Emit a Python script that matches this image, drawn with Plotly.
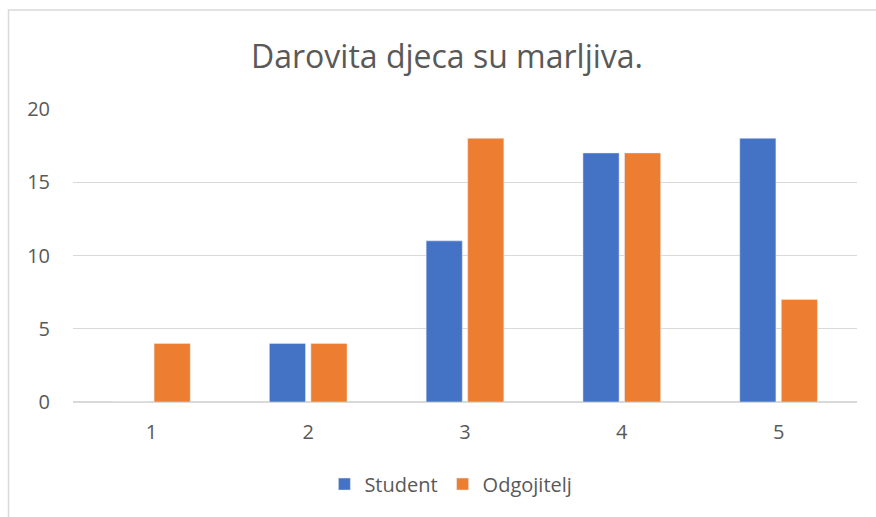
import plotly.graph_objects as go

# Podaci sa grafikona
kategorije = ["1", "2", "3", "4", "5"]
student = [0, 4, 11, 17, 18]
odgojitelj = [4, 4, 18, 17, 7]

PLAVA = "#4472c4"
NARANCASTA = "#ed7d31"
SIVA_TEKST = "#595959"
SIVA_MREZA = "#d9d9d9"
FONT = "Open Sans, sans-serif"

fig = go.Figure()
fig.add_trace(go.Bar(x=kategorije, y=student, name="Student", marker_color=PLAVA))
fig.add_trace(go.Bar(x=kategorije, y=odgojitelj, name="Odgojitelj", marker_color=NARANCASTA))

fig.update_layout(
    width=876,
    height=517,
    paper_bgcolor="white",
    plot_bgcolor="white",
    font=dict(family=FONT, color=SIVA_TEKST, size=20),
    margin=dict(l=73, r=19, t=109, b=115),
    barmode="group",
    bargap=0.47,
    bargroupgap=0.13,
    title=dict(
        text="Darovita djeca su marljiva.",
        x=447 / 876,
        xanchor="center",
        y=1 - 57 / 517,
        yanchor="middle",
        font=dict(size=32, color=SIVA_TEKST, family=FONT),
    ),
    legend=dict(
        orientation="h",
        x=0.482,
        xanchor="center",
        y=-0.28,
        yanchor="middle",
        font=dict(size=20, color=SIVA_TEKST),
        traceorder="normal",
        itemwidth=30,
    ),
    xaxis=dict(showgrid=False, showline=False, ticks="", ticklabelstandoff=16),
    yaxis=dict(
        range=[0, 20],
        dtick=5,
        showgrid=True,
        gridcolor=SIVA_MREZA,
        gridwidth=1,
        zeroline=True,
        zerolinecolor=SIVA_MREZA,
        zerolinewidth=1.5,
        ticks="",
        ticklabelstandoff=22,
    ),
    shapes=[
        dict(
            type="rect",
            xref="paper",
            yref="paper",
            x0=(8.5 - 73) / 784,
            x1=2,
            y0=-1,
            y1=1 + 99 / 293,
            line=dict(color=SIVA_MREZA, width=1.5),
            fillcolor="rgba(0,0,0,0)",
            layer="below",
        )
    ],
)

fig.write_html(
    "out.html",
    config={"displayModeBar": False},
    post_script="document.body.style.margin='0';",
)
